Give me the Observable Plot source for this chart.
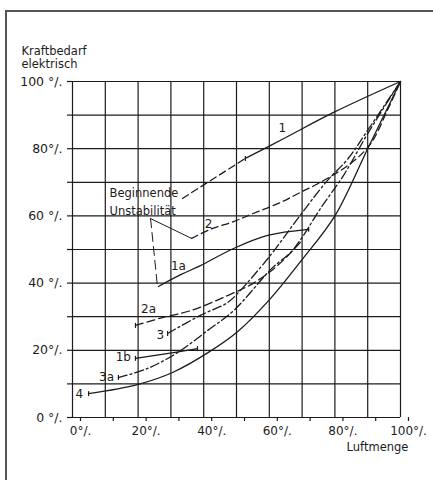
<!DOCTYPE html>
<html>
<head>
<meta charset="utf-8">
<script src="https://cdn.jsdelivr.net/npm/d3@7"></script>
<script src="https://cdn.jsdelivr.net/npm/@observablehq/plot@0.6"></script>
<style>
  html, body { margin: 0; padding: 0; background: #fff; }
  #wrap { position: relative; width: 433px; height: 480px; overflow: hidden; }
  #frame { position: absolute; left: 5px; top: 10px; width: 440px; height: 480px;
           border-top: 2px solid #555; border-left: 2px solid #555; }
  svg { position: absolute; left: 0; top: 0; }
</style>
</head>
<body>
<div id="wrap"><div id="frame"></div></div>
<script>
// ---- data (percent of Luftmenge, percent of Kraftbedarf) ----
const gridTicks = [0, 10, 20, 30, 40, 50, 60, 70, 80, 90, 100];
const xTickLabels = {0: "0°/.", 20: "20°/.", 40: "40°/.", 60: "60°/.", 80: "80°/.", 100: "100°/."};
const yTickLabels = {0: "0 °/.", 20: "20°/.", 40: "40 °/.", 60: "60 °/.", 80: "80°/.", 100: "100 °/."};

const curve1Unstable = [[33.5, 65.2], [52.7, 77.1]];
const curve1 = [[52.7, 77.1], [64, 82.8], [79.6, 90.8], [100, 100]];
const curve1a = [[26.2, 39], [33, 42.5], [39, 45.2], [49.1, 50.3], [59.5, 54.2], [72, 56]];
const curve1b = [[19.2, 17.6], [30.8, 19.3], [38.1, 20.5]];
const curve2 = [[36.3, 53.3], [42, 56], [49.1, 58.3], [54.3, 60.4], [63.4, 64], [69.5, 67], [75.6, 70], [84.8, 75.6], [90.9, 81.5], [96, 91.4], [100, 100]];
const curve2a = [[19.2, 27.4], [27.7, 29.8], [36, 31.8], [47.3, 36.3], [55.2, 40], [62.5, 45.2], [70, 52.7]];
const curve3 = [[29, 25], [39, 30.4], [47.3, 34.2], [50.3, 36.9], [59.8, 47.6], [68.9, 59.5], [77.7, 70.5], [84, 77], [90, 85.5], [100, 100]];
const curve3a = [[14, 11.9], [22.9, 14.6], [32, 19.3], [41.2, 25.9], [49.1, 31.8], [61, 44.6], [66.5, 49.1], [70.4, 54.2], [75.6, 62.2], [82.6, 72], [90, 84.5], [100, 100]];
const curve4 = [[4.9, 7.1], [19.8, 9.8], [30.5, 13.4], [41.8, 19.6], [50.3, 25.5], [60, 35], [70, 47], [80, 60], [90, 80], [100, 100]];

const leaderSolid = [[23.8, 59.2], [36.3, 53.3]];
const leaderDashed = [[23.8, 59.2], [25.9, 39]];

const curveLabels = ["1", "2", "1a", "2a", "3", "1b", "3a", "4"];
const curveLabelX = [64, 41.5, 32.3, 23.2, 26.8, 15.5, 10.4, 2.1];
const curveLabelY = [86, 57.4, 45, 32.1, 24.4, 17.9, 11.9, 6.8];

const noteLines = ["Beginnende", "Unstabilität"];
const noteX = [11.3, 11.3];
const noteY = [66.7, 61.3];

const endTicks = [[52.7, 77.1], [72, 56], [19.2, 17.6], [38.1, 20.5], [19.2, 27.4], [29, 25], [14, 11.9], [4.9, 7.1]];

const yTitle = "Kraftbedarf\nelektrisch";
const xTitle = "Luftmenge";

// ---- chart ----
const ink = "#1c1c1c";
const font = "'DejaVu Sans', sans-serif";
const X = d => d[0], Y = d => d[1];
const solid = {x: X, y: Y, stroke: ink, strokeWidth: 1.3, curve: "catmull-rom"};
const dashed = {...solid, strokeDasharray: "7,4"};
const dashDot = {...solid, strokeDasharray: "9,3,2,3"};

const tickSymbol = {
  draw(ctx, size) {
    const r = Math.sqrt(size / Math.PI);
    ctx.moveTo(0, -r);
    ctx.lineTo(0, r);
  }
};

const chart = Plot.plot({
  width: 433,
  height: 480,
  marginLeft: 72,
  marginRight: 33,
  marginTop: 81,
  marginBottom: 63,
  style: {fontFamily: font, background: "transparent", color: ink},
  x: {domain: [0, 100]},
  y: {domain: [0, 100]},
  marks: [
    Plot.gridX(gridTicks, {stroke: ink, strokeOpacity: 1, strokeWidth: 1.2}),
    Plot.gridY(gridTicks, {stroke: ink, strokeOpacity: 1, strokeWidth: 1.2}),
    Plot.axisX(gridTicks, {tickSize: 4, tickPadding: 5, stroke: ink, strokeWidth: 1.2,
      tickFormat: d => xTickLabels[d] ?? "", dx: 8, fontSize: 12, label: null}),
    Plot.axisY(gridTicks, {tickSize: 5, tickPadding: 5, stroke: ink, strokeWidth: 1.2,
      tickFormat: d => yTickLabels[d] ?? "", fontSize: 12.5, label: null}),
    Plot.line(curve1Unstable, {...dashed, curve: "linear"}),
    Plot.line(curve1, solid),
    Plot.line(curve1a, solid),
    Plot.line(curve1b, solid),
    Plot.line(curve2, dashed),
    Plot.line(curve2a, {...dashed, strokeDasharray: "8,4"}),
    Plot.line(curve3, dashDot),
    Plot.line(curve3a, dashDot),
    Plot.line(curve4, solid),
    Plot.line(leaderSolid, {...solid, strokeWidth: 1, curve: "linear"}),
    Plot.line(leaderDashed, {...solid, strokeWidth: 1, curve: "linear", strokeDasharray: "9,5"}),
    Plot.dot(endTicks, {x: X, y: Y, symbol: tickSymbol, r: 2.5, stroke: ink, strokeWidth: 1.2, fill: "none"}),
    Plot.text(curveLabels, {x: (d, i) => curveLabelX[i], y: (d, i) => curveLabelY[i], text: d => d,
      fontSize: 12, fill: ink, textAnchor: "middle"}),
    Plot.text(noteLines, {x: (d, i) => noteX[i], y: (d, i) => noteY[i], text: d => d,
      fontSize: 11.5, fill: ink, textAnchor: "start"}),
    Plot.text([yTitle], {frameAnchor: "top-left", dx: -51, dy: -24.5, lineAnchor: "middle",
      textAnchor: "start", lineHeight: 1.15, fontSize: 11.5, fill: ink}),
    Plot.text([xTitle], {frameAnchor: "bottom-right", dx: -23, dy: 33, textAnchor: "middle",
      fontSize: 11.5, fill: ink})
  ]
});
document.getElementById("wrap").appendChild(chart);
</script>
</body>
</html>
